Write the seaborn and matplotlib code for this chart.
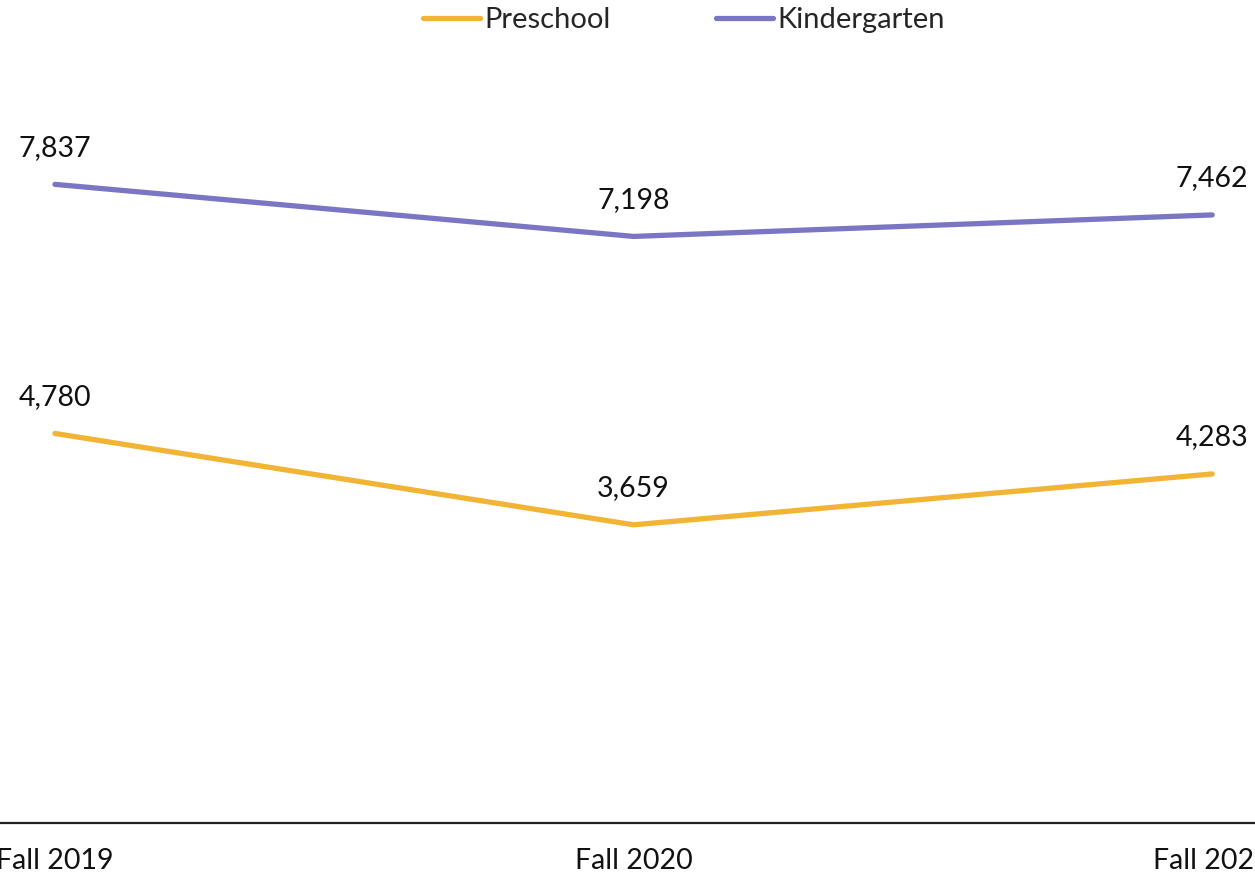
import pandas as pd
import matplotlib.pyplot as plt
import seaborn as sns

# Data
terms = ["Fall 2019", "Fall 2020", "Fall 2021"]
preschool = [4780, 3659, 4283]
kindergarten = [7837, 7198, 7462]

palette = {"Preschool": "#F2B435", "Kindergarten": "#7B76C4"}


def build_frame():
    rows = []
    for i, t in enumerate(terms):
        rows.append({"pos": i, "term": t, "group": "Preschool", "value": preschool[i]})
        rows.append({"pos": i, "term": t, "group": "Kindergarten", "value": kindergarten[i]})
    return pd.DataFrame(rows)


def main():
    df = build_frame()
    sns.set_theme(style="white")
    plt.rcParams["font.family"] = ["Lato", "DejaVu Sans"]

    fig = plt.figure(figsize=(12.55, 8.8), dpi=100)
    ax = fig.add_axes([0.0, 0.0648, 1.0, 0.926])

    sns.lineplot(data=df, x="pos", y="value", hue="group",
                 hue_order=["Preschool", "Kindergarten"], palette=palette,
                 linewidth=3.8, ax=ax, legend=False)

    # value labels above each point
    for _, r in df.iterrows():
        ax.annotate(f"{r['value']:,}", (r["pos"], r["value"]),
                    xytext=(0, 17), textcoords="offset points",
                    ha="center", va="bottom", fontsize=20.5, color="#111111")

    ax.set_xlim(-0.095, 2.074)
    ax.set_ylim(0, 10000)
    ax.set_xticks(range(len(terms)))
    ax.set_xticklabels(terms, fontsize=20.5, color="#111111")
    ax.tick_params(axis="x", length=0, pad=18)
    ax.set_yticks([])
    ax.set_xlabel("")
    ax.set_ylabel("")
    for s in ["top", "left", "right"]:
        ax.spines[s].set_visible(False)
    ax.spines["bottom"].set_color("#222222")
    ax.spines["bottom"].set_linewidth(1.6)

    handles = [plt.Line2D([], [], color=palette[g], linewidth=3.8) for g in ["Preschool", "Kindergarten"]]
    fig.legend(handles, ["Preschool", "Kindergarten"], loc="upper center",
               bbox_to_anchor=(0.545, 1.022), ncol=2, frameon=False,
               fontsize=21, handlelength=1.95, handletextpad=0.15, columnspacing=3.6)

    fig.savefig("out.png", dpi=100)
    plt.close(fig)


if __name__ == "__main__":
    main()
